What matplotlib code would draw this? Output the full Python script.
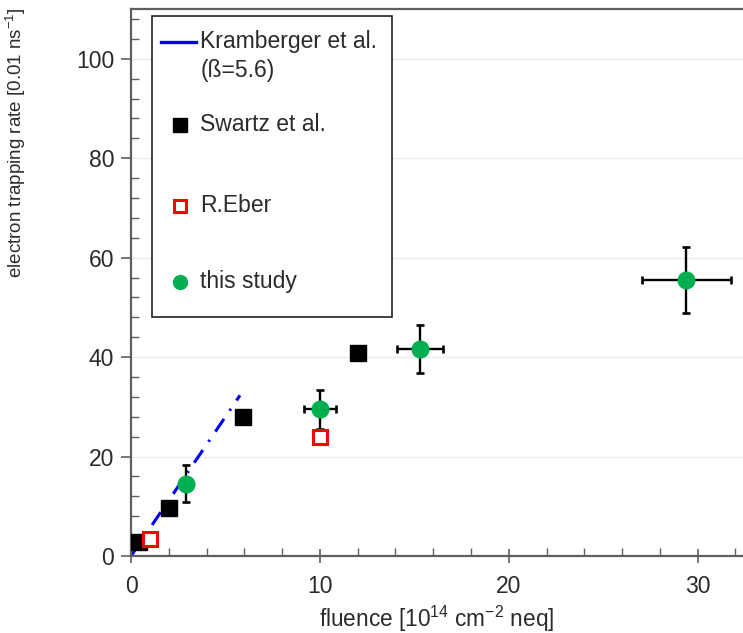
import numpy as np
import matplotlib.pyplot as plt
from matplotlib.patches import Rectangle
from matplotlib.ticker import MultipleLocator

plt.rcParams['font.family'] = ['Liberation Sans', 'DejaVu Sans']
plt.rcParams['mathtext.fontset'] = 'custom'
plt.rcParams['mathtext.rm'] = 'Liberation Sans'
plt.rcParams['mathtext.it'] = 'Liberation Sans'

# Kramberger et al. parametrisation: rate = beta * fluence
beta = 5.6
kram_fluence = [0.0, 5.77]

# Swartz et al.
swartz_fluence = [0.4, 2.0, 5.95, 12.0]
swartz_rate = [2.9, 9.6, 28.0, 40.9]

# R.Eber
eber_fluence = [1.0, 10.0]
eber_rate = [3.5, 23.9]

# this study
study_fluence = [2.9, 10.0, 15.3, 29.4]
study_rate = [14.5, 29.5, 41.6, 55.5]
study_xerr = [0.0, 0.85, 1.2, 2.35]
study_yerr = [3.7, 3.9, 4.8, 6.7]

blue = '#0000ff'
red = '#ff0000'
green = '#00b050'
axis_col = '#5f5f5f'
text_col = '#2b2b2b'

fig = plt.figure(figsize=(7.43, 6.33), dpi=100)
ax = fig.add_axes([131 / 743, 77 / 633, 612 / 743, 547 / 633])

x_line = np.array(kram_fluence)
ax.plot(x_line, beta * x_line, color=blue, lw=2.2,
        linestyle=(0, (5, 3.3, 0.7, 3.3)), zorder=2)

ax.errorbar(study_fluence, study_rate, xerr=study_xerr, yerr=study_yerr,
            fmt='o', ms=12, mfc=green, mec=green, ecolor='black',
            elinewidth=1.7, capsize=3, capthick=1.9, zorder=3)

ax.plot(swartz_fluence, swartz_rate, 's', ms=11, color='black', zorder=4)
ax.plot(eber_fluence, eber_rate, 's', ms=10, mfc='white', mec=red,
        mew=2.2, zorder=5)

ax.set_xlim(0, 32.4)
ax.set_ylim(0, 110)
ax.xaxis.set_major_locator(MultipleLocator(10))
ax.xaxis.set_minor_locator(MultipleLocator(2))
ax.yaxis.set_major_locator(MultipleLocator(20))
ax.yaxis.set_minor_locator(MultipleLocator(4))

ax.grid(axis='y', which='major', color='#ebebeb', lw=1.0, zorder=0)
ax.set_axisbelow(True)

for side in ['left', 'bottom', 'top']:
    ax.spines[side].set_color(axis_col)
    ax.spines[side].set_linewidth(1.6)
ax.spines['right'].set_visible(False)

ax.tick_params(axis='y', which='major', direction='out', length=7,
               width=1.2, color=axis_col, labelsize=16.5, labelcolor=text_col,
               pad=5)
ax.tick_params(axis='y', which='minor', direction='in', length=6,
               width=1.0, color=axis_col)
ax.tick_params(axis='x', which='major', direction='inout', length=10,
               width=1.2, color=axis_col, labelsize=16.5, labelcolor=text_col,
               pad=9)
ax.tick_params(axis='x', which='minor', direction='in', length=6,
               width=1.0, color=axis_col)

ax.set_xlabel('fluence [10$^{14}$ cm$^{-2}$ neq]', fontsize=16.3,
              color=text_col, labelpad=4)
ax.set_ylabel('electron trapping rate [0.01 ns$^{-1}$]', fontsize=13.5,
              color=text_col)
ax.yaxis.set_label_coords(-0.168, 0.755)

# legend box
lx0, lx1 = (152 - 131) / 612, (392 - 131) / 612
ly0, ly1 = (556 - 317) / 547, (556 - 16) / 547
ax.add_patch(Rectangle((lx0, ly0), lx1 - lx0, ly1 - ly0, transform=ax.transAxes,
                       fill=True, facecolor='white', edgecolor='#222222',
                       lw=1.2, zorder=6, clip_on=False))

tx = 0.113
mx = 0.080
leg_fs = 16.5
ax.plot([0.049, 0.106], [0.9397, 0.9397], color=blue, lw=2.4,
        transform=ax.transAxes, zorder=7, clip_on=False)
ax.text(tx, 0.9397, 'Kramberger et al.', transform=ax.transAxes,
        fontsize=leg_fs, va='center', color=text_col, zorder=7)
ax.text(tx, 0.8867, '(ß=5.6)', transform=ax.transAxes,
        fontsize=leg_fs, va='center', color=text_col, zorder=7)

ax.plot([mx], [0.788], 's', ms=10, color='black',
        transform=ax.transAxes, zorder=7, clip_on=False)
ax.text(tx, 0.788, 'Swartz et al.', transform=ax.transAxes,
        fontsize=leg_fs, va='center', color=text_col, zorder=7)

ax.plot([mx], [0.640], 's', ms=9, mfc='white', mec=red, mew=2.2,
        transform=ax.transAxes, zorder=7, clip_on=False)
ax.text(tx, 0.640, 'R.Eber', transform=ax.transAxes,
        fontsize=leg_fs, va='center', color=text_col, zorder=7)

ax.plot([mx], [0.501], 'o', ms=10, color=green,
        transform=ax.transAxes, zorder=7, clip_on=False)
ax.text(tx, 0.501, 'this study', transform=ax.transAxes,
        fontsize=leg_fs, va='center', color=text_col, zorder=7)

fig.savefig('out.png', dpi=100)
